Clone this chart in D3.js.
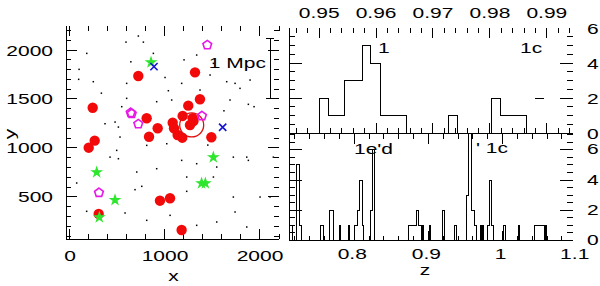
<!DOCTYPE html>
<html>
<head>
<meta charset="utf-8">
<script src="https://cdn.jsdelivr.net/npm/d3@7"></script>
<style>
body { margin: 0; background: #fff; }
text { font-family: "Liberation Sans", Arial, sans-serif; font-size: 15px; fill: #000; }
</style>
</head>
<body>
<div id="chart"></div>
<script>
// ---- left panel: galaxy positions (x, y) ----
const redMembers = [[719,1735],[1316,1772],[1368,1497],[1245,1432],[239,1411],[807,1303],[1186,1327],
  [1081,1258],[923,1201],[1095,1201],[1291,1303],[1263,1235],[832,1115],[1133,1133],[1182,1105],
  [260,1075],[197,1003],[1488,1109],[947,462],[1053,487],[1175,163],[302,327],[1300,1275]];
const magentaGals = [[1445,2051],[639,1360],[650,1350],[719,1245],[1389,1327],[305,544]];
const greenGals = [[853,1874],[281,752],[474,469],[1509,905],[1385,640],[1425,640],[309,293]];
const blueGals = [[884,1830],[1607,1211]];
const fieldDots = [[176,1966],[95,1803],[91,1701],[245,1677],[589,2081],[719,2143],[772,2081],[877,1966],
  [1333,1949],[1509,1864],[1649,1677],[1737,1660],[1789,1609],[1895,1694],[596,1660],[596,1507],
  [544,1422],[368,1248],[474,1265],[509,1214],[526,1112],[1035,1585],[1070,1490],[1175,1660],
  [1368,1592],[1474,1745],[1684,1490],[1877,1446],[1937,1422],[1719,907],[1860,907],[1877,874],
  [491,976],[509,891],[702,755],[912,789],[807,1027],[1018,1044],[1175,874],[1228,704],[1333,840],
  [1544,806],[1719,500],[2000,500],[2105,500],[1737,347],[1860,194],[1544,245],[1333,211],[1053,313],
  [807,262],[579,337],[70,643],[175,354],[755,609],[684,575],[1228,558],[1509,704],[421,907],
  [912,1473],[2140,907],[1450,1030],[1620,1380],[330,1560],[1000,1720],[1200,1900],[640,1880]];
const bigCircle = [1281, 1235];
const scaleBar = { x: 2110, y0: 1500, y1: 2122, label: "1 Mpc" };
const xTickLabels = [0, 1000, 2000];
const yTickLabels = [500, 1000, 1500, 2000];

// ---- right panels: redshift histograms [z0, z1, count] ----
const zoomHist = [[0.9500,0.9516,2],[0.9516,0.9544,1],[0.9544,0.9576,3],[0.9576,0.9591,5],
  [0.9591,0.9607,4],[0.9607,0.9653,1],[0.9727,0.9743,1],[0.9803,0.9819,2],[0.9819,0.9865,1]];
const zoomExtra = [[0.9880,0.9895,2]];
const fullHist = [[0.7125,0.7170,1],[0.7224,0.7259,5],[0.7259,0.7290,1],[0.7547,0.7592,1],
  [0.7663,0.7717,2],[0.7798,0.7821,1],[0.7919,0.7942,1],[0.8009,0.8040,1],[0.8040,0.8072,2],
  [0.8072,0.8113,4],[0.8113,0.8131,1],[0.8221,0.8248,2],[0.8248,0.8279,6],[0.8728,0.8841,1],
  [0.8841,0.8863,2],[0.8863,0.8908,1],[0.8918,0.8930,1],[0.9011,0.9030,1],[0.9191,0.9222,2],
  [0.9357,0.9380,1],[0.9519,0.9546,3],[0.9546,0.9586,9],[0.9586,0.9627,2],[0.9627,0.9654,1],
  [0.9708,0.9722,1],[0.9735,0.9748,1],[0.9792,0.9819,1],[0.9819,0.9852,4],[0.9852,0.9873,1],
  [1.0018,1.0035,1],[1.0221,1.0233,1],[1.0435,1.0570,1],[1.0580,1.0597,1]];
const zoomTickLabels = [0.95, 0.96, 0.97, 0.98, 0.99];
const fullTickLabels = [0.8, 0.9, 1, 1.1];
const countTickLabels = [0, 2, 4, 6];

const width = 600, height = 286, sx = 1.4;
const svg = d3.select("#chart").append("svg")
  .attr("width", width).attr("height", height);

function label(g, x, y, str, anchor) {
  g.append("text")
    .attr("transform", `translate(${x},${y}) scale(${sx},1)`)
    .attr("text-anchor", anchor)
    .text(str);
}
function isMajor(v, majors) { return majors.some(m => Math.abs(m - v) < 1e-9); }
function hTicks(g, scale, vals, majors, y, dir, big, small) {
  vals.forEach(v => g.append("line")
    .attr("x1", scale(v)).attr("x2", scale(v))
    .attr("y1", y).attr("y2", y + dir * (isMajor(v, majors) ? big : small)));
}
function vTicks(g, scale, vals, majors, x, dir, big, small) {
  vals.forEach(v => g.append("line")
    .attr("y1", scale(v)).attr("y2", scale(v))
    .attr("x1", x).attr("x2", x + dir * (isMajor(v, majors) ? big : small)));
}

// ================= left panel =================
const L = { left: 66, right: 279, top: 26, bottom: 239 };
const x = d3.scaleLinear().domain([-42, 2200]).range([L.left, L.right]);
const y = d3.scaleLinear().domain([71, 2245]).range([L.bottom, L.top]);
const gl = svg.append("g").attr("stroke", "#000").attr("stroke-width", 1).attr("shape-rendering", "crispEdges");
gl.append("line").attr("x1", L.left).attr("x2", L.right).attr("y1", L.bottom).attr("y2", L.bottom);
gl.append("line").attr("x1", L.left).attr("x2", L.left).attr("y1", L.top).attr("y2", L.bottom);
const lxTicks = d3.range(0, 2201, 200), lyTicks = d3.range(100, 2201, 100);
hTicks(gl, x, lxTicks, xTickLabels, L.bottom, -1, 10, 5);
hTicks(gl, x, lxTicks, xTickLabels, L.top, 1, 10, 5);
vTicks(gl, y, lyTicks, yTickLabels, L.left, 1, 11, 5);
vTicks(gl, y, lyTicks, yTickLabels, L.right, -1, 11, 5);

const gt = svg.append("g");
xTickLabels.forEach(v => label(gt, x(v), 261, v, "middle"));
yTickLabels.forEach(v => label(gt, 53, y(v) + 5.5, v, "end"));
label(gt, (L.left + L.right) / 2 + 1, 281, "x", "middle");
gt.append("text").attr("transform", `translate(15,134) rotate(-90) scale(${sx},1)`)
  .attr("text-anchor", "middle").text("y");

// scale bar
const gb = svg.append("g").attr("stroke", "#000").attr("shape-rendering", "crispEdges");
gb.append("line").attr("x1", x(scaleBar.x)).attr("x2", x(scaleBar.x)).attr("y1", y(scaleBar.y0)).attr("y2", y(scaleBar.y1));
[scaleBar.y0, scaleBar.y1].forEach(v => gb.append("line")
  .attr("x1", x(scaleBar.x) - 4).attr("x2", x(scaleBar.x) + 4).attr("y1", y(v)).attr("y2", y(v)));
label(gt, 266, 68, scaleBar.label, "end");

// field galaxies
svg.append("g").selectAll("rect").data(fieldDots).join("rect")
  .attr("x", d => x(d[0]) - 0.7).attr("y", d => y(d[1]) - 0.7)
  .attr("width", 1.5).attr("height", 1.5).attr("fill", "#000");

svg.append("g").selectAll("circle").data(redMembers).join("circle")
  .attr("cx", d => x(d[0])).attr("cy", d => y(d[1])).attr("r", 5.2).attr("fill", "#f20a0a");

svg.append("circle").attr("cx", x(bigCircle[0])).attr("cy", y(bigCircle[1])).attr("r", 12)
  .attr("fill", "none").attr("stroke", "#e01010").attr("stroke-width", 1.3);

const pent = d3.range(5).map(i => {
  const a = -Math.PI / 2 + i * 2 * Math.PI / 5;
  return [4.6 * Math.cos(a), 4.6 * Math.sin(a)];
});
svg.append("g").selectAll("path").data(magentaGals).join("path")
  .attr("transform", d => `translate(${x(d[0])},${y(d[1])})`)
  .attr("d", "M" + pent.join("L") + "Z")
  .attr("fill", "none").attr("stroke", "#e619e6").attr("stroke-width", 1.6);

svg.append("g").selectAll("path").data(greenGals).join("path")
  .attr("transform", d => `translate(${x(d[0])},${y(d[1])})`)
  .attr("d", d3.symbol(d3.symbolStar, 26)())
  .attr("fill", "#2ee62e").attr("stroke", "#2ee62e").attr("stroke-width", 1.2);

svg.append("g").selectAll("path").data(blueGals).join("path")
  .attr("transform", d => `translate(${x(d[0])},${y(d[1])})`)
  .attr("d", d3.symbol(d3.symbolX, 36)())
  .attr("fill", "none").attr("stroke", "#1414d2").attr("stroke-width", 1.6);

// ================= right panels =================
const R = { left: 289, right: 573, top: 28, mid: 133.5, bottom: 240.5 };
const zT = d3.scaleLinear().domain([0.9447, 0.9946]).range([R.left, R.right]);
const nT = d3.scaleLinear().domain([0, 6]).range([133, 28]);
const zB = d3.scaleLinear().domain([0.712, 1.095]).range([R.left, R.right]);
const nB = d3.scaleLinear().domain([0, 7.05]).range([R.bottom, 134]);

svg.append("clipPath").attr("id", "clipT").append("rect")
  .attr("x", R.left).attr("y", R.top).attr("width", R.right - R.left).attr("height", R.mid - R.top);
svg.append("clipPath").attr("id", "clipB").append("rect")
  .attr("x", R.left).attr("y", R.mid).attr("width", R.right - R.left).attr("height", R.bottom - R.mid);

const gr = svg.append("g").attr("stroke", "#000").attr("stroke-width", 1).attr("shape-rendering", "crispEdges");
gr.append("line").attr("x1", R.left).attr("x2", R.left).attr("y1", R.top).attr("y2", R.bottom);
gr.append("line").attr("x1", R.left).attr("x2", R.right).attr("y1", R.mid).attr("y2", R.mid);
gr.append("line").attr("x1", R.left).attr("x2", R.right).attr("y1", R.bottom).attr("y2", R.bottom);

const zTticks = d3.range(473, 498).map(i => i * 0.002);
const zBticks = d3.range(36, 55).map(i => i * 0.02);
const nTticks = d3.range(1, 12).map(i => i * 0.5);
const nBticks = d3.range(1, 15).map(i => i * 0.5);
hTicks(gr, zT, zTticks, zoomTickLabels, R.top, 1, 10, 5);
hTicks(gr, zT, zTticks, zoomTickLabels, 133, -1, 10, 5);
hTicks(gr, zB, zBticks, fullTickLabels, 134, 1, 10, 5);
hTicks(gr, zB, zBticks, fullTickLabels, R.bottom, -1, 10, 5);
vTicks(gr, nT, nTticks, countTickLabels, R.left, 1, 13, 6);
vTicks(gr, nT, nTticks, countTickLabels, R.right, -1, 13, 6);
vTicks(gr, nB, nBticks, countTickLabels, R.left, 1, 13, 6);
vTicks(gr, nB, nBticks, countTickLabels, R.right, -1, 13, 6);

// step outline: adjacent bins share one vertical, runs close down to zero
function stepPath(data, zs, ns) {
  const p = d3.path();
  let prevEnd = null;
  data.forEach(([z0, z1, n]) => {
    if (prevEnd !== null && Math.abs(z0 - prevEnd) < 1e-6) {
      p.lineTo(zs(z0), ns(n));
    } else {
      if (prevEnd !== null) p.lineTo(zs(prevEnd), ns(0));
      p.moveTo(zs(z0), ns(0));
      p.lineTo(zs(z0), ns(n));
    }
    p.lineTo(zs(z1), ns(n));
    prevEnd = z1;
  });
  p.lineTo(zs(prevEnd), ns(0));
  return p.toString();
}
function bars(data, zs, ns, clip) {
  svg.append("path").attr("clip-path", `url(#${clip})`)
    .attr("d", stepPath(data, zs, ns))
    .attr("fill", "none").attr("stroke", "#000").attr("stroke-width", 1)
    .attr("shape-rendering", "crispEdges");
}
bars(zoomHist, zT, nT, "clipT");
bars(fullHist, zB, nB, "clipB");
svg.append("g").selectAll("line").data(zoomExtra).join("line")
  .attr("x1", d => zT(d[0])).attr("x2", d => zT(d[1]))
  .attr("y1", d => nT(d[2])).attr("y2", d => nT(d[2]))
  .attr("stroke", "#000").attr("shape-rendering", "crispEdges");

zoomTickLabels.forEach(v => label(gt, zT(v), 18, v.toFixed(2), "middle"));
fullTickLabels.forEach(v => label(gt, zB(v) - 2, 259, v, "middle"));
countTickLabels.forEach(v => label(gt, 587, nT(v) + 5.5, v, "start"));
countTickLabels.forEach(v => label(gt, 587, nB(v) + 4.5, v, "start"));
label(gt, 425, 275, "z", "middle");

// panel tags
label(gt, 378, 53, "1", "start");
label(gt, 520, 53, "1c", "start");
label(gt, 354, 154, "1e'd", "start");
label(gt, 476, 153, "' 1c", "start");
</script>
</body>
</html>
